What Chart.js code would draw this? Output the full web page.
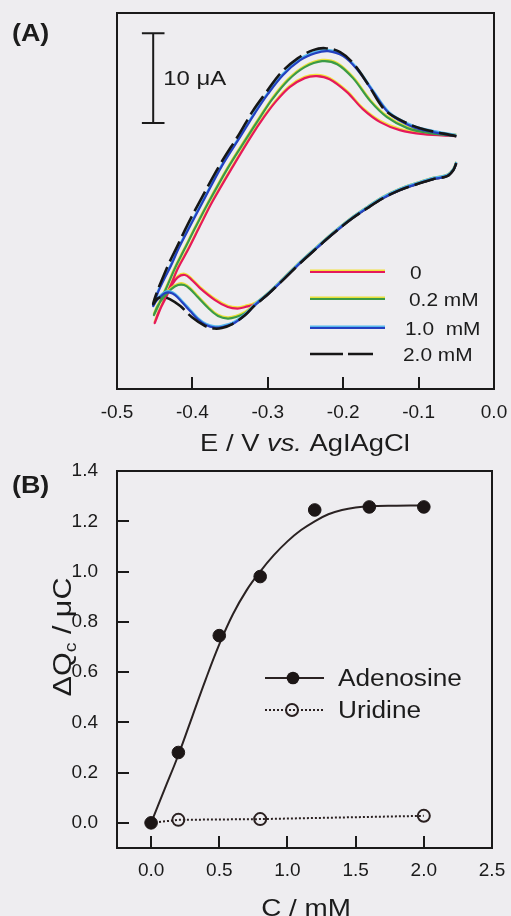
<!DOCTYPE html>
<html><head><meta charset="utf-8">
<script src="https://cdn.jsdelivr.net/npm/chart.js@4/dist/chart.umd.min.js"></script>
<style>
html,body{margin:0;padding:0;background:#eeedf0;}
#wrap{position:relative;width:511px;height:916px;overflow:hidden;}
#ca{position:absolute;left:0;top:0;}
#cb{position:absolute;left:0;top:460px;}
</style></head><body>
<div id="wrap">
<canvas id="ca" width="511" height="460"></canvas>
<canvas id="cb" width="511" height="456"></canvas>
</div>
<script>
const FONT = "'Liberation Sans', Arial, Helvetica, sans-serif";

// ---------- Panel A: cyclic voltammograms (E in V, I in µA, arbitrary offset) ----------
const xTicksA = [-0.5, -0.4, -0.3, -0.2, -0.1, 0.0];
const cvLabels = ['0', '0.2 mM', '1.0  mM', '2.0 mM'];

const cvE_0 = [-0.050,-0.054,-0.062,-0.081,-0.102,-0.125,-0.147,-0.168,-0.191,-0.214,-0.235,-0.257,-0.280,-0.301,-0.317,-0.330,-0.340,-0.353,-0.370,-0.390,-0.402,-0.410,-0.419,-0.427,-0.436,-0.444,-0.450,
  -0.442,-0.435,-0.428,-0.419,-0.406,-0.390,-0.373,-0.346,-0.321,-0.306,-0.290,-0.271,-0.251,-0.235,-0.218,-0.195,-0.174,-0.151,-0.125,-0.094,-0.050];
const cvI_0 = [5.11,4.33,3.67,3.33,2.78,2.11,1.22,0.11,-1.22,-2.78,-4.33,-6.00,-7.89,-9.56,-10.56,-10.89,-11.06,-10.89,-10.11,-8.78,-7.78,-7.33,-7.56,-8.44,-10.00,-11.33,-12.67,
  -11.00,-9.67,-8.33,-6.56,-4.56,-1.89,0.89,4.78,8.22,10.11,11.89,13.56,14.56,14.78,14.44,13.00,11.11,9.67,8.78,8.33,8.11];

const cvE_02 = [-0.050,-0.054,-0.062,-0.081,-0.102,-0.125,-0.147,-0.168,-0.191,-0.214,-0.235,-0.257,-0.280,-0.301,-0.317,-0.330,-0.342,-0.353,-0.366,-0.379,-0.393,-0.403,-0.411,-0.419,-0.428,-0.438,-0.446,-0.451,
  -0.443,-0.434,-0.423,-0.411,-0.395,-0.379,-0.353,-0.328,-0.310,-0.294,-0.273,-0.251,-0.228,-0.208,-0.187,-0.164,-0.142,-0.115,-0.085,-0.050];
const cvI_02 = [5.11,4.33,3.67,3.33,2.78,2.11,1.22,0.11,-1.22,-2.78,-4.33,-6.00,-7.89,-9.56,-10.67,-11.56,-12.00,-12.17,-11.89,-11.00,-9.78,-8.89,-8.44,-8.44,-8.89,-9.78,-10.78,-11.78,
  -10.33,-8.67,-6.56,-4.56,-1.89,0.67,4.56,7.89,10.22,12.22,14.33,15.78,16.44,16.11,14.56,12.00,10.22,9.00,8.44,8.11];

const cvE_10 = [-0.050,-0.054,-0.062,-0.081,-0.102,-0.125,-0.147,-0.168,-0.191,-0.214,-0.235,-0.257,-0.280,-0.301,-0.317,-0.330,-0.347,-0.361,-0.370,-0.382,-0.393,-0.403,-0.414,-0.423,-0.430,-0.436,-0.443,-0.448,-0.452,
  -0.446,-0.438,-0.428,-0.418,-0.403,-0.387,-0.361,-0.336,-0.317,-0.300,-0.280,-0.257,-0.237,-0.220,-0.200,-0.182,-0.160,-0.138,-0.107,-0.081,-0.050];
const cvI_10 = [5.11,4.33,3.67,3.33,2.78,2.11,1.22,0.11,-1.22,-2.78,-4.33,-6.00,-7.89,-9.56,-10.67,-11.78,-12.78,-13.11,-13.17,-12.89,-12.22,-11.33,-10.33,-9.56,-9.28,-9.33,-9.78,-10.22,-10.78,
  -9.33,-7.89,-6.22,-4.33,-1.89,0.67,4.78,8.11,10.67,12.78,14.89,16.56,17.33,17.56,17.00,15.56,13.00,10.56,9.11,8.56,8.11];

const cvE_20 = [-0.050,-0.054,-0.062,-0.081,-0.102,-0.125,-0.147,-0.168,-0.191,-0.214,-0.235,-0.257,-0.280,-0.301,-0.317,-0.330,-0.347,-0.361,-0.371,-0.383,-0.401,-0.416,-0.430,-0.440,-0.447,-0.452,
  -0.447,-0.440,-0.431,-0.420,-0.406,-0.390,-0.363,-0.338,-0.320,-0.302,-0.283,-0.260,-0.240,-0.224,-0.204,-0.187,-0.168,-0.147,-0.129,-0.098,-0.050];
const cvI_20 = [5.11,4.33,3.67,3.33,2.78,2.11,1.22,0.11,-1.22,-2.78,-4.33,-6.00,-7.89,-9.56,-10.67,-11.78,-12.78,-13.22,-13.28,-13.00,-12.00,-10.78,-10.00,-9.78,-10.00,-10.56,
  -9.22,-7.78,-6.00,-4.11,-1.67,0.89,5.00,8.33,10.89,13.00,15.11,16.78,17.67,17.89,17.44,16.22,14.00,11.22,10.11,9.00,8.11];

// scale bar (10 µA)
const scaleBarE = -0.452;
const scaleBarI = [9.56, 19.56];
const scaleBarCapHalf = 0.015;
const scaleBarLabel = '10 \u03bcA';

// ---------- Panel B: charge vs concentration ----------
const xTicksB = [0, 0.5, 1.0, 1.5, 2.0, 2.5];
const yTicksB = [0, 0.2, 0.4, 0.6, 0.8, 1.0, 1.2, 1.4];
const seriesNamesB = ['Adenosine', 'Uridine'];
const concAdenosine = [0, 0.2, 0.5, 0.8, 1.2, 1.6, 2.0];
const dQAdenosine = [0, 0.28, 0.745, 0.98, 1.245, 1.257, 1.257];
const concUridine = [0, 0.2, 0.8, 2.0];
const dQUridine = [0, 0.012, 0.015, 0.028];
const fitC = [0, 0.1, 0.2, 0.3, 0.4, 0.5, 0.6, 0.7, 0.8, 0.9, 1.0, 1.1, 1.2, 1.3, 1.4, 1.5, 1.6, 1.8, 2.0];
const fitQ = [0, 0.135, 0.27, 0.42, 0.57, 0.71, 0.83, 0.925, 1.0, 1.065, 1.12, 1.165, 1.2, 1.228, 1.245, 1.255, 1.26, 1.262, 1.263];

// ---------- helpers ----------
const pts = (xs, ys) => xs.map((x, k) => ({x: x, y: ys[k]}));
function fontStr(p){ return [p.style||'', p.weight||'', (p.size)+'px', FONT].filter(s=>s).join(' '); }
function rich(ctx, parts, x, y, o){
  o = o || {};
  ctx.save();
  ctx.translate(x, y);
  if (o.rot) ctx.rotate(o.rot);
  ctx.scale(o.sx || 1.12, 1);
  let total = 0;
  parts.forEach(p => { ctx.font = fontStr(p); p._w = ctx.measureText(p.t).width; total += p._w; });
  let cx = o.align === 'left' ? 0 : -total/2;
  const base = parts[0].size * 0.36;
  ctx.fillStyle = o.color || '#1c1c1c';
  ctx.textAlign = 'left'; ctx.textBaseline = 'alphabetic';
  parts.forEach(p => { ctx.font = fontStr(p); ctx.fillText(p.t, cx, base + (p.dy||0)); cx += p._w; });
  ctx.restore();
}
function noPad(s){ s.paddingTop = 0; s.paddingBottom = 0; s.paddingLeft = 0; s.paddingRight = 0; }
const frame = {
  id: 'frame',
  beforeDatasetsDraw(chart){
    const a = chart.chartArea, c = chart.ctx;
    c.save(); c.strokeStyle = '#1a1a1a'; c.lineWidth = 2;
    c.strokeRect(a.left, a.top, a.right - a.left, a.bottom - a.top);
    c.restore();
  }
};
const edge = {
  id: 'edge',
  beforeDatasetDraw(chart, args){
    const ds = chart.data.datasets[args.index];
    if (ds.edgeColor){ const c = chart.ctx; c.save(); c.shadowColor = ds.edgeColor; c.shadowOffsetX = 0; c.shadowOffsetY = -1.3; c.shadowBlur = 0; }
  },
  afterDatasetDraw(chart, args){
    const ds = chart.data.datasets[args.index];
    if (ds.edgeColor) chart.ctx.restore();
  }
};

const colorsA = ['#e5195a', '#3b9b46', '#2340c0', '#161616'];
const edgesA = ['#f2e23a', '#e6e03a', '#56b8ec', null];

// ---------- Chart A ----------
const curvesA = [pts(cvE_0, cvI_0), pts(cvE_02, cvI_02), pts(cvE_10, cvI_10), pts(cvE_20, cvI_20)];
const dsA = [3, 2, 1, 0].map(k => ({
  label: cvLabels[k],
  data: curvesA[k],
  showLine: true,
  borderColor: colorsA[k],
  borderWidth: k === 3 ? 2.6 : 2.2,
  borderDash: k === 3 ? [22, 6] : [],
  edgeColor: edgesA[k],
  pointRadius: 0,
  tension: 0.35,
  fill: false
}));

const annotA = {
  id: 'annotA',
  afterDraw(chart){
    const c = chart.ctx, xs = chart.scales.x, ys = chart.scales.y;
    // scale bar
    const bx = xs.getPixelForValue(scaleBarE);
    const y1 = ys.getPixelForValue(scaleBarI[0]), y2 = ys.getPixelForValue(scaleBarI[1]);
    const cl = xs.getPixelForValue(scaleBarE - scaleBarCapHalf), cr = xs.getPixelForValue(scaleBarE + scaleBarCapHalf);
    c.save(); c.strokeStyle = '#1a1a1a'; c.lineWidth = 2;
    c.beginPath(); c.moveTo(bx, y1); c.lineTo(bx, y2);
    c.moveTo(cl, y1); c.lineTo(cr, y1); c.moveTo(cl, y2); c.lineTo(cr, y2); c.stroke(); c.restore();
    rich(c, [{t: scaleBarLabel, size: 21}], bx + 10, (y1 + y2) / 2 - 1, {align: 'left', sx: 1.14});
    // legend
    const ly = [272, 299, 328, 354], tx = [410, 409, 405, 403];
    for (let k = 0; k < 4; k++){
      c.save();
      c.lineWidth = k === 3 ? 2.6 : 2.2;
      if (edgesA[k]){ c.strokeStyle = edgesA[k]; c.beginPath(); c.moveTo(310, ly[k]-1.3); c.lineTo(385, ly[k]-1.3); c.stroke(); }
      c.strokeStyle = colorsA[k];
      if (k === 3) c.setLineDash([33, 5]);
      c.beginPath(); c.moveTo(310, ly[k]); c.lineTo(k === 3 ? 373 : 385, ly[k]); c.stroke();
      c.restore();
      rich(c, [{t: cvLabels[k], size: 18}], tx[k], ly[k] + 1, {align: 'left', sx: 1.16});
    }
    // panel label and axis title
    rich(c, [{t: '(A)', size: 24, weight: 'bold'}], 12, 32, {align: 'left', sx: 1.12});
    rich(c, [{t: 'E / V ', size: 24}, {t: 'vs.', size: 24, style: 'italic'}, {t: ' AgIAgCl', size: 24}], 305, 442, {sx: 1.14});
  }
};

new Chart(document.getElementById('ca'), {
  type: 'scatter',
  data: {datasets: dsA},
  options: {
    responsive: false, animation: false, devicePixelRatio: 1,
    layout: {padding: {left: 117, right: 17, top: 13, bottom: 0}},
    plugins: {legend: {display: false}, tooltip: {enabled: false}},
    scales: {
      x: {
        type: 'linear', min: -0.5, max: 0,
        afterBuildTicks(s){ s.ticks = xTicksA.map(v => ({value: v})); },
        afterFit(s){ s.height = 71; noPad(s); },
        grid: {drawOnChartArea: false, drawTicks: true, tickLength: -12, color: '#1a1a1a', lineWidth: 2},
        border: {display: false},
        ticks: {padding: 24, color: '#1a1a1a', font: {family: FONT, size: 19}, maxRotation: 0, autoSkip: false,
          callback: v => Number(v).toFixed(1)}
      },
      y: {type: 'linear', min: -20, max: 21.8, display: false}
    }
  },
  plugins: [frame, edge, annotA]
});

// ---------- Chart B ----------
const annotB = {
  id: 'annotB',
  afterDraw(chart){
    const c = chart.ctx;
    // legend
    c.save(); c.strokeStyle = '#2a2222'; c.lineWidth = 2;
    c.beginPath(); c.moveTo(265, 218); c.lineTo(324, 218); c.stroke();
    c.fillStyle = '#1c1616'; c.beginPath(); c.arc(293, 218, 6.3, 0, Math.PI*2); c.fill();
    c.setLineDash([2, 2]); c.strokeStyle = '#2a2020';
    c.beginPath(); c.moveTo(265, 250); c.lineTo(323, 250); c.stroke();
    c.setLineDash([]); c.beginPath(); c.arc(292, 250, 6, 0, Math.PI*2); c.stroke();
    c.restore();
    rich(c, [{t: seriesNamesB[0], size: 23}], 338, 218, {align: 'left', sx: 1.14});
    rich(c, [{t: seriesNamesB[1], size: 23}], 338, 250, {align: 'left', sx: 1.14});
    // labels
    rich(c, [{t: '(B)', size: 24, weight: 'bold'}], 12, 24, {align: 'left', sx: 1.12});
    rich(c, [{t: 'C / mM', size: 24}], 306, 447, {sx: 1.16});
    rich(c, [{t: '\u0394Q', size: 25}, {t: 'c', size: 16, dy: 5}, {t: ' / \u03bcC', size: 25}], 62, 177, {rot: -Math.PI/2, sx: 1.22});
  }
};

new Chart(document.getElementById('cb'), {
  type: 'scatter',
  data: {datasets: [
    {label: seriesNamesB[0], data: pts(concAdenosine, dQAdenosine), showLine: false,
     pointRadius: 6.3, pointBackgroundColor: '#1c1616', pointBorderColor: '#1c1616', pointBorderWidth: 1},
    {label: 'fit', data: pts(fitC, fitQ), showLine: true, pointRadius: 0,
     borderColor: '#2a2222', borderWidth: 2, tension: 0.4},
    {label: seriesNamesB[1], data: pts(concUridine, dQUridine), showLine: true, tension: 0,
     borderColor: '#2a2020', borderWidth: 2, borderDash: [2, 2],
     pointRadius: ctx => ctx.dataIndex === 0 ? 0 : 6, pointBorderWidth: 2,
     pointBorderColor: '#2a2020', pointBackgroundColor: 'rgba(0,0,0,0)'}
  ]},
  options: {
    responsive: false, animation: false, devicePixelRatio: 1,
    layout: {padding: {left: 0, right: 19, top: 11, bottom: 0}},
    plugins: {legend: {display: false}, tooltip: {enabled: false}},
    scales: {
      x: {
        type: 'linear', min: -0.25, max: 2.5,
        afterBuildTicks(s){ s.ticks = xTicksB.map(v => ({value: v})); },
        afterFit(s){ s.height = 68; noPad(s); },
        grid: {drawOnChartArea: false, drawTicks: true, tickLength: -12, color: '#1a1a1a', lineWidth: 2},
        border: {display: false},
        ticks: {padding: 23, color: '#1a1a1a', font: {family: FONT, size: 19}, maxRotation: 0, autoSkip: false,
          callback: v => Number(v).toFixed(1)}
      },
      y: {
        type: 'linear', min: -0.1, max: 1.4,
        afterBuildTicks(s){ s.ticks = yTicksB.map(v => ({value: v})); },
        afterFit(s){ s.width = 117; noPad(s); },
        grid: {drawOnChartArea: false, drawTicks: true, tickLength: -12, color: '#1a1a1a', lineWidth: 2},
        border: {display: false},
        ticks: {padding: 31, color: '#1a1a1a', font: {family: FONT, size: 19}, autoSkip: false,
          callback: v => Number(v).toFixed(1)}
      }
    }
  },
  plugins: [frame, annotB]
});
</script>
</body></html>
